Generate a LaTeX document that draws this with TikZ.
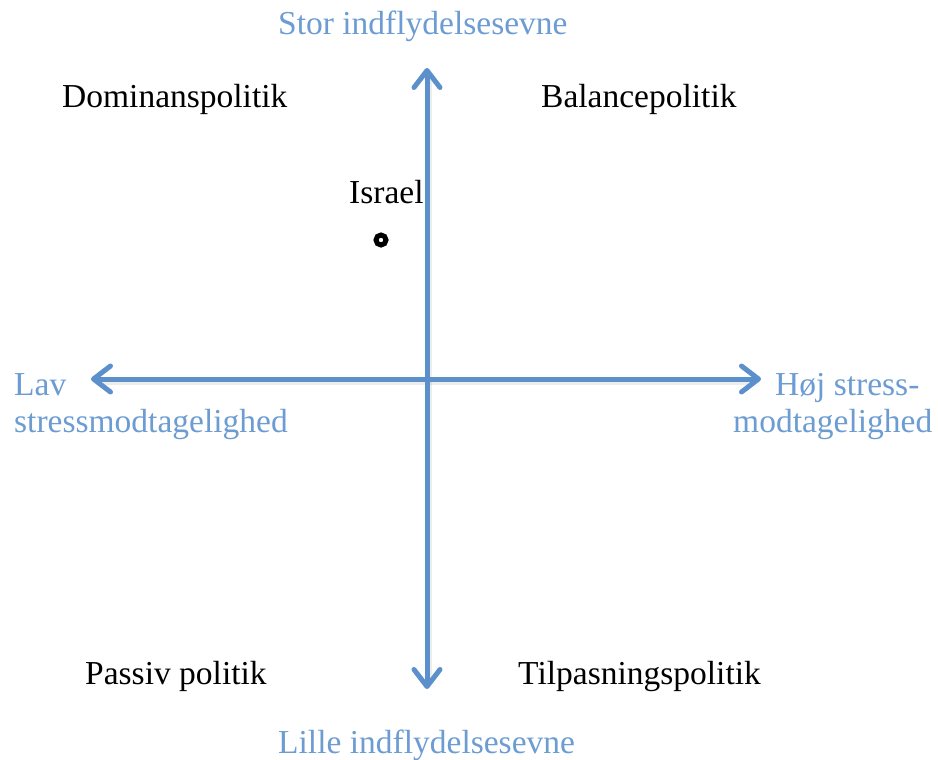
\documentclass[tikz,border=0pt]{standalone}
\usepackage{fontspec}
\setmainfont{Liberation Serif}
\usetikzlibrary{arrows.meta}
\definecolor{axisblue}{RGB}{91,144,202}
\definecolor{labelblue}{RGB}{108,156,210}
\begin{document}
\begin{tikzpicture}[x=1pt,y=-1pt,
  txt/.style={inner sep=0pt,anchor=base west,font=\fontsize{33.5}{40}\selectfont},
  axlabel/.style={txt,text=labelblue},
  axisline/.style={line width=5pt,draw=axisblue,line cap=round,
    {Straight Barb[length=17pt,width=26pt,line cap=round,line join=round]}-{Straight Barb[length=17pt,width=26pt,line cap=round,line join=round]}},
  shadowline/.style={line width=6pt,draw=black,opacity=0.07,line cap=butt}]
\useasboundingbox (0,0) rectangle (938,760);
% axis end coordinates
\coordinate (top) at (427,68);
\coordinate (bottom) at (427,689);
\coordinate (left) at (91,379);
\coordinate (right) at (761,379);
\coordinate (topS) at (429,80);
\coordinate (bottomS) at (429,678);
\coordinate (leftS) at (103,382);
\coordinate (rightS) at (750,382);
% faint shadows
\draw[shadowline] (topS) -- (bottomS);
\draw[shadowline] (leftS) -- (rightS);
% axes
\draw[axisline] (bottom) -- (top);
\draw[axisline] (left) -- (right);
% axis labels
\node[axlabel] (stor) at (278,35) {Stor indflydelsesevne};
\node[axlabel] (lille) at (278,753) {Lille indflydelsesevne};
\node[axlabel] (lav) at (14,395) {Lav};
\node[axlabel] (lav2) at (14,432) {stressmodtagelighed};
\node[axlabel] (hoj) at (775,395) {Høj stress-};
\node[axlabel] (hoj2) at (733,432) {modtagelighed};
% quadrant labels
\node[txt] (dom) at (62,108) {Dominanspolitik};
\node[txt] (bal) at (541,108) {Balancepolitik};
\node[txt] (pas) at (85,684) {Passiv politik};
\node[txt] (til) at (518,684) {Tilpasningspolitik};
\node[txt] (isr) at (349,203) {Israel};
% point
\node[circle,draw=black,line width=5pt,fill=white,minimum size=10pt,inner sep=0pt] (pt) at (381,240) {};
\end{tikzpicture}
\end{document}
